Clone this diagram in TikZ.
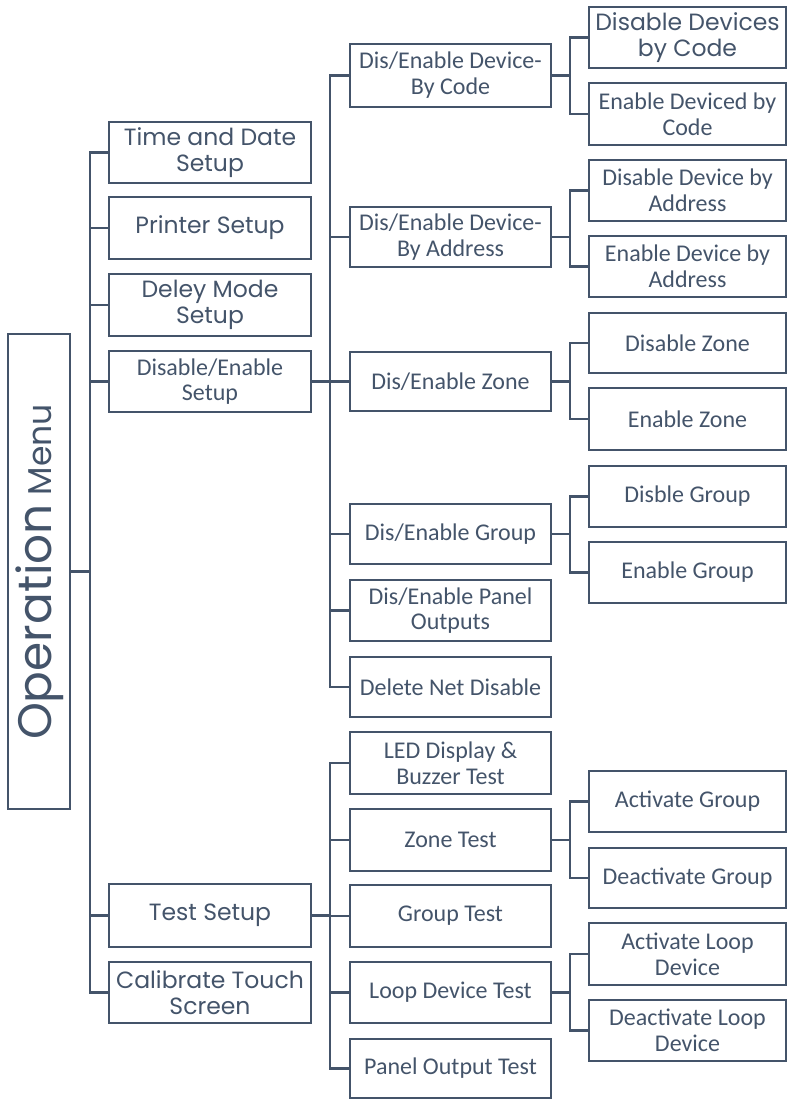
\documentclass[tikz,border=0pt]{standalone}
\usepackage{fontspec}
\setmainfont{Carlito}
\newfontfamily\gothic{Poppins}
\definecolor{slate}{HTML}{44546A}
\tikzset{
  box/.style={draw=slate, line width=2.6pt, rectangle, align=center, text=slate, inner sep=1pt,
    font=\fontsize{24}{25.8}\selectfont},
  gbox/.style={box, font=\gothic\fontsize{23.5}{26}\selectfont},
  lone/.style={box, minimum width=202pt},
  ltwo/.style={box, minimum width=201pt},
  lthree/.style={box, minimum width=197pt},
  conn/.style={draw=slate, line width=2.2pt, line cap=rect},
}
\begin{document}
\begin{tikzpicture}[x=1pt,y=-1pt]
\useasboundingbox (0,0) rectangle (788,1099);
% root
\node[box, minimum width=62pt, minimum height=475pt] (op) at (39,571.5) {};
\node[rotate=90, text=slate, inner sep=0pt] (optext) at (40,572) {\gothic\fontsize{47}{50}\selectfont Operation\fontsize{33}{36}\selectfont\ Menu};
% level 1
\node[lone, gbox, minimum height=61pt] (td) at (210,152.5) {Time and Date\\Setup};
\node[lone, gbox, minimum height=62pt] (pr) at (210,228) {Printer Setup};
\node[lone, gbox, minimum height=62pt] (dm) at (210,305) {Deley Mode\\Setup};
\node[lone, minimum height=61pt] (des) at (210,381.5) {Disable/Enable\\Setup};
\node[lone, gbox, minimum height=63pt] (ts) at (210,915.5) {Test Setup};
\node[lone, gbox, minimum height=61pt] (cal) at (210,992.5) {Calibrate Touch\\Screen};
% level 2 (disable)
\node[ltwo, minimum height=63pt] (bc) at (450.5,75.5) {Dis/Enable Device-\\By Code};
\node[ltwo, minimum height=60pt] (ba) at (450.5,237) {Dis/Enable Device-\\By Address};
\node[ltwo, minimum height=59pt] (dz) at (450.5,381.5) {Dis/Enable Zone};
\node[ltwo, minimum height=60pt] (dg) at (450.5,534) {Dis/Enable Group};
\node[ltwo, minimum height=61pt] (dp) at (450.5,610.5) {Dis/Enable Panel\\Outputs};
\node[ltwo, minimum height=60pt] (dn) at (450.5,687) {Delete Net Disable};
% level 2 (test)
\node[ltwo, minimum height=62pt] (led) at (450.5,763) {LED Display \&\\Buzzer Test};
\node[ltwo, minimum height=62pt] (zt) at (450.5,840) {Zone Test};
\node[ltwo, minimum height=62pt] (gt) at (450.5,916) {Group Test};
\node[ltwo, minimum height=61pt] (lt) at (450.5,992.5) {Loop Device Test};
\node[ltwo, minimum height=59pt] (pt) at (450.5,1068.5) {Panel Output Test};
% level 3
\node[lthree, gbox, minimum height=61pt] (ddc) at (687.5,37.5) {Disable Devices\\by Code};
\node[lthree, minimum height=62pt] (edc) at (687.5,114) {Enable Deviced by\\Code};
\node[lthree, minimum height=61pt] (dda) at (687.5,190.5) {Disable Device by\\Address};
\node[lthree, minimum height=61pt] (eda) at (687.5,266.5) {Enable Device by\\Address};
\node[lthree, minimum height=60pt] (dzn) at (687.5,343) {Disable Zone};
\node[lthree, minimum height=62pt] (ezn) at (687.5,419) {Enable Zone};
\node[lthree, minimum height=61pt] (dgr) at (687.5,496.5) {Disble Group};
\node[lthree, minimum height=61pt] (egr) at (687.5,572.5) {Enable Group};
\node[lthree, minimum height=61pt] (agr) at (687.5,801.5) {Activate Group};
\node[lthree, minimum height=60pt] (dagr) at (687.5,878) {Deactivate Group};
\node[lthree, minimum height=62pt] (ald) at (687.5,954) {Activate Loop\\Device};
\node[lthree, minimum height=61pt] (dald) at (687.5,1030.5) {Deactivate Loop\\Device};
% trunks
\coordinate (k1) at (90,0);
\coordinate (k2) at (330,0);
\coordinate (k3) at (570,0);
% level 1 connectors
\draw[conn] (op.east) -- (op.east -| k1);
\draw[conn] (td.west -| k1) -- (cal.west -| k1);
\foreach \n in {td,pr,dm,des,ts,cal} \draw[conn] (\n.west) -- (\n.west -| k1);
% level 2 connectors
\draw[conn] (des.east) -- (des.east -| k2);
\draw[conn] (bc.west -| k2) -- (dn.west -| k2);
\foreach \n in {bc,ba,dz,dg,dp,dn} \draw[conn] (\n.west) -- (\n.west -| k2);
\draw[conn] (ts.east) -- (ts.east -| k2);
\draw[conn] (led.west -| k2) -- (pt.west -| k2);
\foreach \n in {led,zt,gt,lt,pt} \draw[conn] (\n.west) -- (\n.west -| k2);
% level 3 connectors
\foreach \p/\a/\b in {bc/ddc/edc, ba/dda/eda, dz/dzn/ezn, dg/dgr/egr, zt/agr/dagr, lt/ald/dald}{
  \draw[conn] (\p.east) -- (\p.east -| k3);
  \draw[conn, line join=miter] (\a.west) -- (\a.west -| k3) -- (\b.west -| k3) -- (\b.west);
}
\end{tikzpicture}
\end{document}
